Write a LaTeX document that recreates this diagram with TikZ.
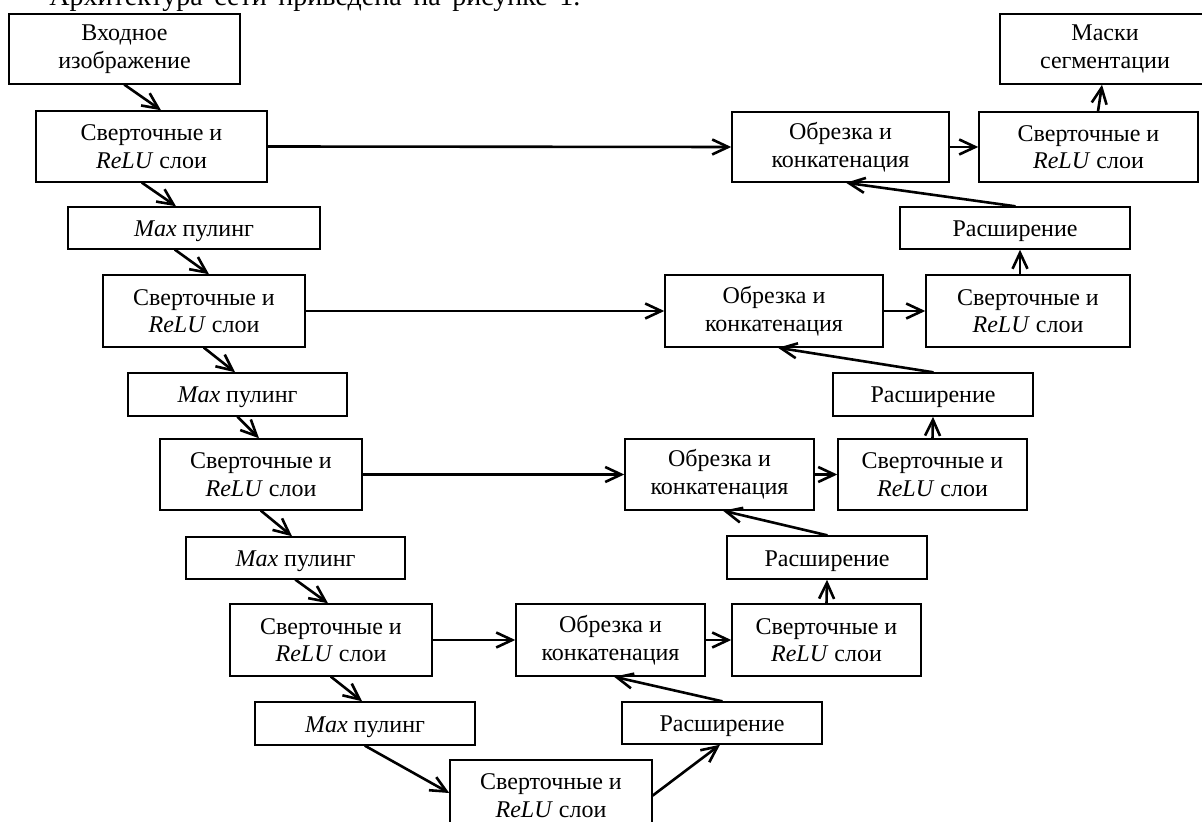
\documentclass[tikz,border=0pt]{standalone}
\usepackage{fontspec}
\setmainfont{Liberation Serif}
\usetikzlibrary{arrows.meta,calc}
\tikzset{
  blk/.style={draw, line width=0.75pt, inner sep=0pt, align=center,
    font=\fontsize{12}{13.8}\selectfont},
  one/.style={text height=9pt, text depth=0.5pt},
  arr/.style={line width=1.3pt, line cap=round,
    -{Straight Barb[length=8pt,width=7.5pt,line width=1.3pt]}},
}
\newcommand\bx[7][]{\node[blk, #1, minimum width={(#5-#3)*0.5pt},
  minimum height={(#6-#4)*0.5pt}] (#2) at ({(#3+#5)/2},{(#4+#6)/2}) {#7};}
\newcommand\conv{Сверточные и\\\textit{ReLU} слои}
\newcommand\pool{\textit{Max} пулинг}
\newcommand\conc{Обрезка и\\конкатенация}
\newcommand\upsm{Расширение}
\begin{document}
\begin{tikzpicture}[x=0.5pt,y=-0.5pt]
\useasboundingbox (0,0) rectangle (1202,822);
\clip (0,0) rectangle (1202,822);
\node[anchor=base west, inner sep=0pt, font=\fontsize{14}{16}\selectfont] (title) at (49,6)
  {\makebox[265.5pt][s]{Архитектура сети приведена на рисунке 1.}};
% left (encoder) column
\bx{A}{9}{14}{240}{84}{Входное\\изображение}
\bx{B1}{36}{111}{267}{182}{\conv}
\bx[one]{P1}{68}{207}{320}{249}{\pool}
\bx{B2}{103}{275}{305}{347}{\conv}
\bx[one]{P2}{128}{373}{347}{416}{\pool}
\bx{B3}{160}{439}{362}{510}{\conv}
\bx[one]{P3}{186}{537}{405}{579}{\pool}
\bx{B4}{230}{604}{432}{676}{\conv}
\bx[one]{P4}{255}{702}{475}{745}{\pool}
\bx{B5}{450}{760}{652}{831}{\conv}
% right (decoder) column
\bx{M}{1000}{14}{1210}{84}{Маски\\сегментации}
\bx{C1}{732}{112}{949}{182}{\conc}
\bx{V1}{979}{112}{1198}{182}{\conv}
\bx[one]{E1}{900}{207}{1130}{249}{\upsm}
\bx{C2}{665}{275}{883}{347}{\conc}
\bx{V2}{926}{275}{1130}{347}{\conv}
\bx[one]{E2}{833}{373}{1033}{416}{\upsm}
\bx{C3}{625}{439}{814}{510}{\conc}
\bx{V3}{838}{439}{1027}{510}{\conv}
\bx[one]{E3}{727}{536}{927}{579}{\upsm}
\bx{C4}{516}{604}{705}{676}{\conc}
\bx{V4}{732}{604}{921}{676}{\conv}
\bx[one]{E4}{622}{702}{822}{744}{\upsm}
% down path
\draw[arr] (A.south) -- ($(B1.north)+(9.5,0)$);
\draw[arr] ($(B1.south)+(-9.5,0)$) -- ($(P1.north)+(-18,0)$);
\draw[arr] ($(P1.south)+(-19,0)$) -- ($(B2.north)+(5,0)$);
\draw[arr] (B2.south) -- ($(P2.north)+(-2.5,0)$);
\draw[arr] (P2.south) -- ($(B3.north)+(-2,0)$);
\draw[arr] (B3.south) -- ($(P3.north)+(-3.5,0)$);
\draw[arr] (P3.south) -- ($(B4.north)+(-3,0)$);
\draw[arr] (B4.south) -- ($(P4.north)+(-3,0)$);
\draw[arr] (P4.south) -- ($(B5.west)+(0,-2.5)$);
\draw[arr] (B5.east) -- ($(E4.south)+(-2,0)$);
% skip connections
\draw[arr] (B1.east) -- (C1.west);
\draw[arr] (B2.east) -- (C2.west);
\draw[arr] (B3.east) -- (C3.west);
\draw[arr] (B4.east) -- (C4.west);
% up path
\draw[arr] (E4.north) -- ($(C4.south)+(3.5,0)$);
\draw[arr] (C4.east) -- (V4.west);
\draw[arr] (V4.north) -- (E3.south);
\draw[arr] (E3.north) -- ($(C3.south)+(3.5,0)$);
\draw[arr] (C3.east) -- (V3.west);
\draw[arr] (V3.north) -- (E2.south);
\draw[arr] (E2.north) -- ($(C2.south)+(4,0)$);
\draw[arr] (C2.east) -- (V2.west);
\draw[arr] ($(V2.north)+(-8,0)$) -- ($(E1.south)+(5,0)$);
\draw[arr] (E1.north) -- ($(C1.south)+(5.5,0)$);
\draw[arr] (C1.east) -- (V1.west);
\draw[arr] ($(V1.north)+(9.5,0)$) -- ($(M.south)+(-3,0)$);
\end{tikzpicture}
\end{document}
